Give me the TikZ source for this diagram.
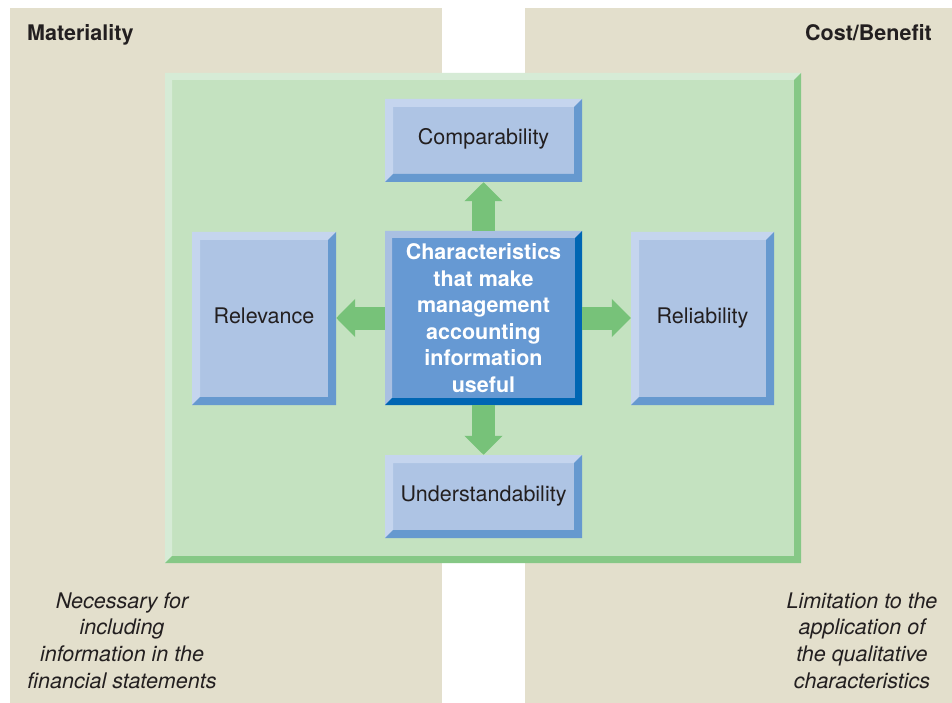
\documentclass[tikz,border=0pt]{standalone}
\usepackage{fontspec}
\setmainfont{TeX Gyre Heros}
\usetikzlibrary{arrows.meta}
\definecolor{sand}{HTML}{E3DFCC}
\definecolor{panelface}{HTML}{C4E2C0}
\definecolor{panellight}{HTML}{D6EBD6}
\definecolor{paneldark}{HTML}{86C886}
\definecolor{arrowgreen}{HTML}{77C279}
\definecolor{boxface}{HTML}{AEC4E4}
\definecolor{boxlight}{HTML}{C5D5EE}
\definecolor{boxdark}{HTML}{6699CF}
\definecolor{hubface}{HTML}{6699D3}
\definecolor{hublight}{HTML}{A9C0E2}
\definecolor{hubdark}{HTML}{0066B3}
\definecolor{ink}{HTML}{231F20}
\tikzset{
  % rectangle with a raised frame: light top/left, dark bottom/right
  bevelbox/.style n args={4}{rectangle, inner sep=0pt, fill=#1,
    path picture={
      \fill[#2] (path picture bounding box.north west) -- (path picture bounding box.north east)
        -- ([shift={(-#4,-#4)}]path picture bounding box.north east)
        -- ([shift={(#4,-#4)}]path picture bounding box.north west)
        -- ([shift={(#4,#4)}]path picture bounding box.south west)
        -- (path picture bounding box.south west) -- cycle;
      \fill[#3] (path picture bounding box.south east) -- (path picture bounding box.north east)
        -- ([shift={(-#4,-#4)}]path picture bounding box.north east)
        -- ([shift={(-#4,#4)}]path picture bounding box.south east)
        -- ([shift={(#4,#4)}]path picture bounding box.south west)
        -- (path picture bounding box.south west) -- cycle;
    }},
  txt/.style={font=\fontsize{21.5}{26.6}\selectfont, text=ink},
  panel/.style={bevelbox={panelface}{panellight}{paneldark}{7pt}},
  qbox/.style={bevelbox={boxface}{boxlight}{boxdark}{8pt}, txt, align=center,
    text height=16pt, text depth=7pt},
  hub/.style={bevelbox={hubface}{hublight}{hubdark}{7pt}, txt, text=white, font=\fontsize{21.5}{26.6}\selectfont\bfseries, align=center},
  fat/.style={draw=arrowgreen, line width=23pt, -{Triangle[width=37pt,length=19pt,fill=arrowgreen]}},
  note/.style={txt, align=center, font=\fontsize{21.5}{26.6}\selectfont\itshape},
  head/.style={txt, inner sep=0pt, font=\fontsize{21.5}{26.6}\selectfont\bfseries}
}
\begin{document}
\begin{tikzpicture}[x=1pt, y=-1pt]
  \useasboundingbox (0,0) rectangle (952,703);
  \fill[white] (0,0) rectangle (952,703);
  % background bands
  \fill[sand] (10,8) rectangle (442,703);
  \fill[sand] (525,8) rectangle (952,703);

  \node[head, anchor=base west] (mat) at (27,41) {Materiality};
  \node[head, anchor=base east] (cost) at (932,41) {Cost/Benefit};

  % framed area
  \node[panel, minimum width=636pt, minimum height=490pt] (panel) at (483,318) {};

  \node[hub, minimum width=197pt, minimum height=174pt] (hub) at (483.5,318)
    {Characteristics\\that make\\management\\accounting\\information\\useful};
  \node[qbox, minimum width=197pt, minimum height=83pt] (comp) at (483.5,140.5) {Comparability};
  \node[qbox, minimum width=197pt, minimum height=83pt] (und) at (483.5,496.5) {Understandability};
  \node[qbox, minimum width=144pt, minimum height=173pt] (rel) at (264,318.5) {Relevance};
  \node[qbox, minimum width=143pt, minimum height=173pt] (reli) at (702.5,318.5) {Reliability};

  \draw[fat] (hub.north) -- (comp.south);
  \draw[fat] (hub.south) -- (und.north);
  \draw[fat] (hub.west) -- (rel.east |- hub.west);
  \draw[fat] (hub.east) -- (reli.west |- hub.east);

  \node[note] (matnote) at (122,640.5)
    {Necessary for\\including\\information in the\\financial statements};
  \node[note] (costnote) at (862,640.5)
    {Limitation to the\\application of\\the qualitative\\characteristics};
\end{tikzpicture}
\end{document}
